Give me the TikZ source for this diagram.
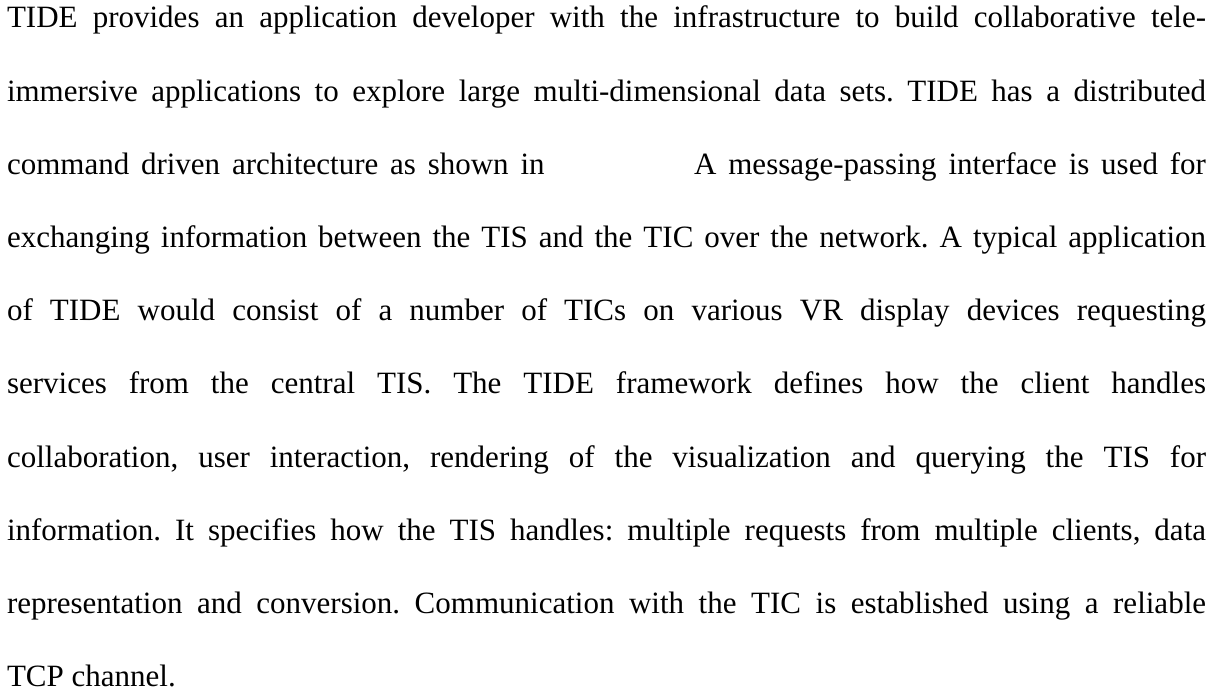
\documentclass[tikz,border=0pt]{standalone}
\usepackage{fontspec}
\setmainfont{Liberation Serif}
\newcommand\bodyfont{\fontsize{31pt}{73pt}\selectfont\frenchspacing}
\newlength\linew
\setlength\linew{1199pt}
% one justified line of the paragraph
\newcommand\jline[1]{\makebox[\linew][s]{#1}}
\begin{document}
\begin{tikzpicture}[x=1pt,y=1pt,
  textline/.style={anchor=base west, inner sep=0pt, outer sep=0pt, font=\bodyfont}]
\useasboundingbox (0,0) rectangle (1212,-692);
\node[textline] (l1) at (7,-27.9) {\jline{TIDE provides an application developer with the infrastructure to build collaborative tele-}};
\node[textline] (l2) at (7,-101.1) {\jline{immersive applications to explore large multi-dimensional data sets. TIDE has a distributed}};
\node[textline] (l3) at (7,-174.3) {\jline{command driven architecture as shown in \hspace{126pt} A message-passing interface is used for}};
\node[textline] (l4) at (7,-247.5) {\jline{exchanging information between the TIS and the TIC over the network. A typical application}};
\node[textline] (l5) at (7,-320.7) {\jline{of TIDE would consist of a number of TICs on various VR display devices requesting}};
\node[textline] (l6) at (7,-393.9) {\jline{services from the central TIS. The TIDE framework defines how the client handles}};
\node[textline] (l7) at (7,-467.1) {\jline{collaboration, user interaction, rendering of the visualization and querying the TIS for}};
\node[textline] (l8) at (7,-540.3) {\jline{information. It specifies how the TIS handles: multiple requests from multiple clients, data}};
\node[textline] (l9) at (7,-613.5) {\jline{representation and conversion. Communication with the TIC is established using a reliable}};
\node[textline] (l10) at (7,-686.7) {TCP channel.};
\end{tikzpicture}
\end{document}
